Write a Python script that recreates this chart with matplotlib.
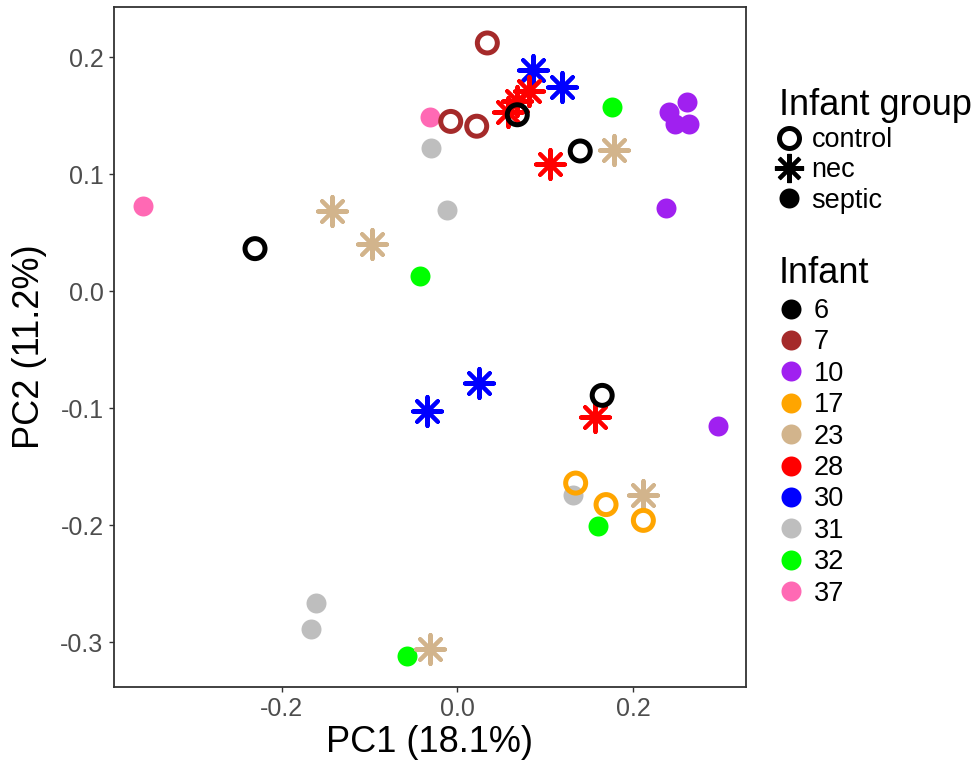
import matplotlib
matplotlib.use("Agg")
import matplotlib.pyplot as plt
from matplotlib.lines import Line2D

plt.rcParams['font.family'] = ['Liberation Sans', 'DejaVu Sans']

# ---- data ----
infants = ["6", "7", "10", "17", "23", "28", "30", "31", "32", "37"]
infant_colors = {"6": "#000000", "7": "#A52A2A", "10": "#A020F0", "17": "#FFA500",
                 "23": "#D2B48C", "28": "#FF0000", "30": "#0000FF", "31": "#BEBEBE",
                 "32": "#00FF00", "37": "#FF69B4"}
infant_group = {"6": "control", "7": "control", "10": "septic", "17": "control",
                "23": "nec", "28": "nec", "30": "nec", "31": "septic",
                "32": "septic", "37": "septic"}

pc1_6 = [0.0683, 0.140, -0.2304, 0.165]
pc2_6 = [0.151, 0.120, 0.0365, -0.089]
pc1_7 = [0.0342, -0.0075, 0.0221]
pc2_7 = [0.2124, 0.1453, 0.1412]
pc1_10 = [0.262, 0.2415, 0.248, 0.2642, 0.2377, 0.297]
pc2_10 = [0.1623, 0.153, 0.143, 0.143, 0.0709, -0.115]
pc1_17 = [0.1348, 0.1694, 0.2119]
pc2_17 = [-0.164, -0.1824, -0.1959]
pc1_23 = [-0.1428, -0.0973, 0.178, 0.2111, -0.0311]
pc2_23 = [0.0683, 0.0403, 0.121, -0.1739, -0.3063]
pc1_28 = [0.068, 0.082, 0.0581, 0.1056, 0.1568]
pc2_28 = [0.163, 0.171, 0.153, 0.109, -0.1074]
pc1_30 = [0.0866, 0.1189, -0.0345, 0.0246]
pc2_30 = [0.1889, 0.1751, -0.1023, -0.0785]
pc1_31 = [-0.0303, -0.0117, 0.132, -0.1613, -0.1666]
pc2_31 = [0.1224, 0.0692, -0.1739, -0.2667, -0.2884]
pc1_32 = [0.1765, -0.0425, 0.1606, -0.0569]
pc2_32 = [0.1573, 0.0132, -0.2007, -0.3119]
pc1_37 = [-0.031, -0.358]
pc2_37 = [0.1487, 0.0731]

pc1 = {"6": pc1_6, "7": pc1_7, "10": pc1_10, "17": pc1_17, "23": pc1_23,
       "28": pc1_28, "30": pc1_30, "31": pc1_31, "32": pc1_32, "37": pc1_37}
pc2 = {"6": pc2_6, "7": pc2_7, "10": pc2_10, "17": pc2_17, "23": pc2_23,
       "28": pc2_28, "30": pc2_30, "31": pc2_31, "32": pc2_32, "37": pc2_37}

draw_order = ["31", "32", "37", "10", "30", "28", "23", "17", "7", "6"]

xticks = [-0.2, 0.0, 0.2]
yticks = [-0.3, -0.2, -0.1, 0.0, 0.1, 0.2]

W, H = 977, 761

# ---- figure ----
fig = plt.figure(figsize=(9.77, 7.61), dpi=100)
ax = fig.add_axes([114/W, 1 - 687/H, (746-114)/W, (687-7.3)/H])

STAR = (8, 2, 0)
def style(group, color):
    if group == "control":
        return dict(marker="o", s=207, facecolors="none", edgecolors=color, linewidths=3.6)
    if group == "nec":
        return dict(marker=STAR, s=441, c=color, linewidths=2.9)
    return dict(marker="o", s=207, c=color, linewidths=0)

for inf in draw_order:
    ax.scatter(pc1[inf], pc2[inf], **style(infant_group[inf], infant_colors[inf]), zorder=3)

ax.set_xlim(-0.391, 0.3288)
ax.set_ylim(-0.3384, 0.2429)
ax.set_xticks(xticks)
ax.set_xticklabels([f"{t:.1f}" for t in xticks])
ax.set_yticks(yticks)
ax.set_yticklabels([f"{t:.1f}" for t in yticks])

for sp in ax.spines.values():
    sp.set_color("#333333")
    sp.set_linewidth(1.3)
ax.tick_params(axis="both", length=3.5, width=1.0, color="#333333",
               labelcolor="#4D4D4D", labelsize=18)
ax.tick_params(axis="x", pad=4)
ax.tick_params(axis="y", pad=4)

ax.set_xlabel("PC1 (18.1%)", fontsize=26, va="center")
ax.xaxis.set_label_coords(0.5, -0.081)
ax.set_ylabel("PC2 (11.2%)", fontsize=26, va="center")
ax.yaxis.set_label_coords(-0.133, 0.5)

# ---- legends ----
groups = ["control", "nec", "septic"]
h1 = []
for g in groups:
    if g == "control":
        h1.append(Line2D([], [], ls="none", marker="o", ms=14.4, mfc="none", mec="black", mew=3.6))
    elif g == "nec":
        h1.append(Line2D([], [], ls="none", marker=STAR, ms=21, color="black", mew=2.9))
    else:
        h1.append(Line2D([], [], ls="none", marker="o", ms=14.4, color="black", mew=0))

fig.text(779/W, 1 - 115/H, "Infant group", fontsize=26, ha="left", va="baseline")
leg1 = fig.legend(h1, groups, loc="upper left", bbox_to_anchor=(775/W, 1 - 127/H),
                  frameon=False, fontsize=19.5, borderpad=0, borderaxespad=0,
                  handlelength=1.0, handletextpad=0.35, labelspacing=0.16)

h2 = [Line2D([], [], ls="none", marker="o", ms=14.4, color=infant_colors[i], mew=0) for i in infants]
fig.text(779/W, 1 - 283/H, "Infant", fontsize=26, ha="left", va="baseline")
leg2 = fig.legend(h2, infants, loc="upper left", bbox_to_anchor=(777/W, 1 - 298/H),
                  frameon=False, fontsize=19.5, borderpad=0, borderaxespad=0,
                  handlelength=1.0, handletextpad=0.35, labelspacing=0.2)

fig.savefig("out.png", dpi=100)
